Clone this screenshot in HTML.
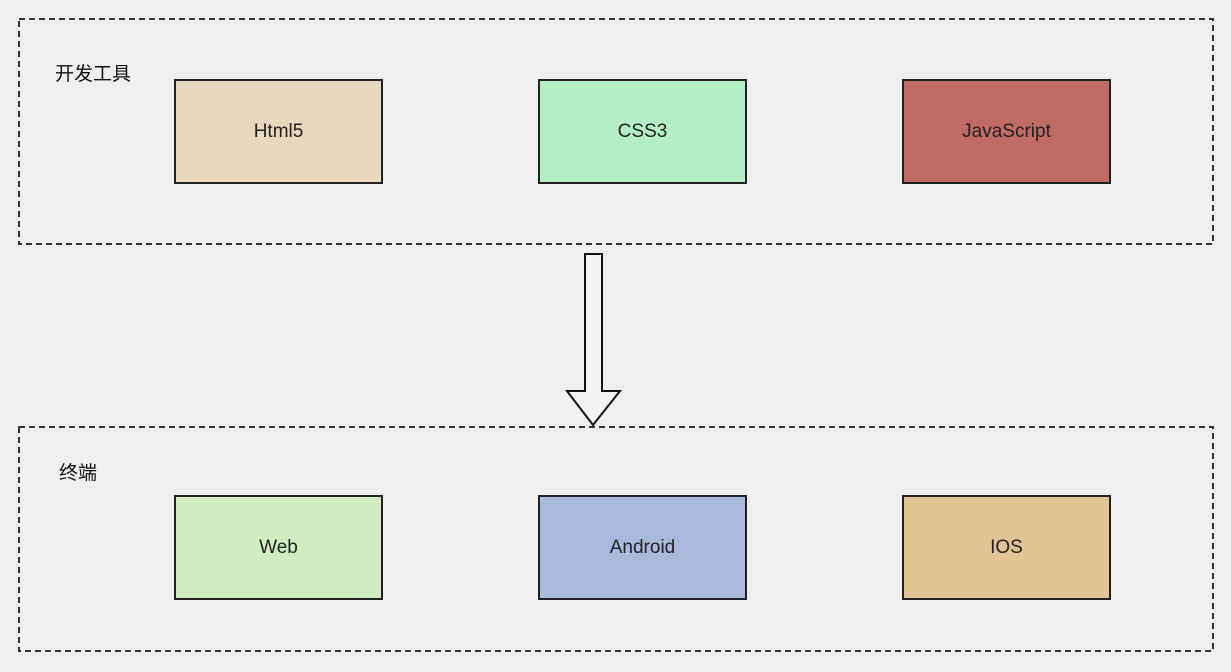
<!DOCTYPE html>
<html><head><meta charset="utf-8"><style>
body{margin:0;width:1231px;height:672px;background:#efefef;position:relative;overflow:hidden;font-family:"Liberation Sans","Noto Sans CJK SC",sans-serif}
.lbl{position:absolute;font-size:19px;color:#111}
.box{position:absolute;width:209px;height:105px;border:2px solid #222;box-sizing:border-box;display:flex;align-items:center;justify-content:center;font-size:19px;color:#222}
</style></head><body>
<svg style="position:absolute;left:0;top:0" width="1231" height="672">
<rect x="19" y="19" width="1194" height="225" fill="none" stroke="#333" stroke-width="2" stroke-dasharray="6,4"/>
<rect x="19" y="427" width="1194" height="224" fill="none" stroke="#333" stroke-width="2" stroke-dasharray="6,4"/>
<path d="M585 254 H602 V391 H620 L593 425 L567 391 H585 Z" fill="#f4f4f4" stroke="#111" stroke-width="2"/>
</svg>
<div class="lbl" style="left:55px;top:59px">开发工具</div>
<div class="box" style="left:174px;top:79px;background:#e8d8bd">Html5</div>
<div class="box" style="left:538px;top:79px;background:#b4eec4">CSS3</div>
<div class="box" style="left:902px;top:79px;background:#c06b63">JavaScript</div>
<div class="lbl" style="left:59px;top:458px">终端</div>
<div class="box" style="left:174px;top:495px;background:#d1ecc1">Web</div>
<div class="box" style="left:538px;top:495px;background:#a9b9dc">Android</div>
<div class="box" style="left:902px;top:495px;background:#e1c394">IOS</div>
</body></html>
